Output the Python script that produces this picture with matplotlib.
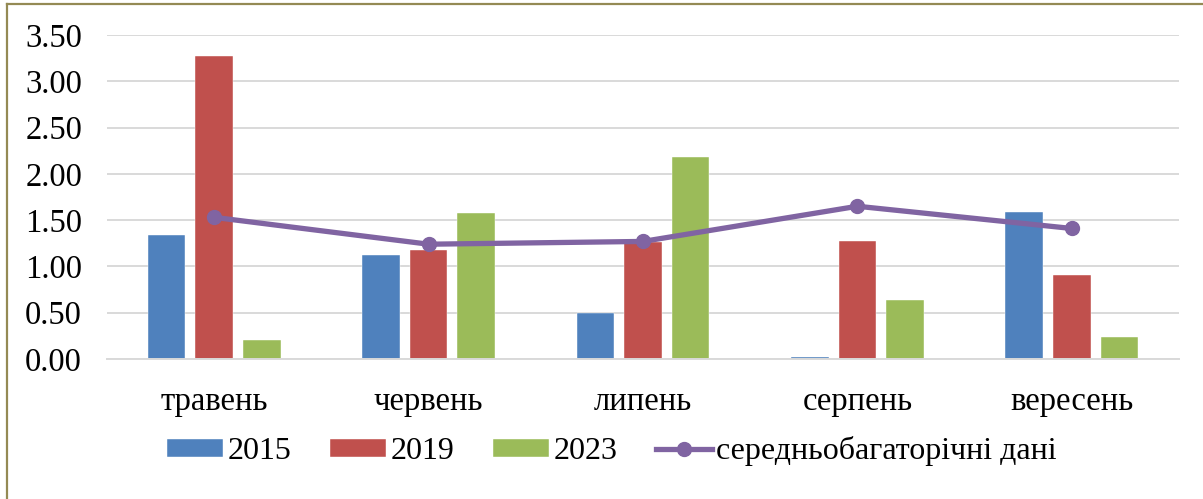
import matplotlib
matplotlib.use("Agg")
import matplotlib.pyplot as plt
import numpy as np
from matplotlib.lines import Line2D

months = ["травень", "червень", "липень", "серпень", "вересень"]
series_names = ["2015", "2019", "2023"]
v2015 = [1.34, 1.12, 0.50, 0.02, 1.59]
v2019 = [3.27, 1.18, 1.26, 1.28, 0.91]
v2023 = [0.20, 1.58, 2.18, 0.64, 0.24]
avg_name = "середньобагаторічні дані"
avg = [1.53, 1.24, 1.27, 1.65, 1.41]
yticks = [0.0, 0.5, 1.0, 1.5, 2.0, 2.5, 3.0, 3.5]

colors = ["#4F81BD", "#C0504D", "#9BBB59"]
line_color = "#8064A2"

plt.rcParams['font.family'] = ['Liberation Serif', 'DejaVu Serif']

W, H = 1203, 499
fig = plt.figure(figsize=(W / 100, H / 100), dpi=100)
left, right, top, bottom = 107, 1179, 35, 359
ax = fig.add_axes([left / W, 1 - bottom / H, (right - left) / W, (bottom - top) / H])

x = np.arange(len(months))
width = 0.175
step = 0.222
bars = []
for i, (vals, name) in enumerate(zip([v2015, v2019, v2023], series_names)):
    b = ax.bar(x + (i - 1) * step, vals, width, color=colors[i], label=name,
               edgecolor="white", linewidth=0.3, zorder=2)
    bars.append(b)
ln, = ax.plot(x, avg, color=line_color, linewidth=3.8, marker="o", markersize=10,
              label=avg_name, zorder=3)

ax.set_xlim(-0.5, len(months) - 0.5)
ax.set_ylim(0, 3.5)
ax.set_yticks(yticks)
ax.set_yticklabels([f"{t:.2f}" for t in yticks])
ax.set_xticks(x)
ax.set_xticklabels(months)
ax.tick_params(axis="both", length=0, labelsize=23.5)
ax.tick_params(axis="x", pad=20)
ax.tick_params(axis="y", pad=18)
ax.grid(axis="y", color="#D9D9D9", linewidth=1.4, zorder=0)
ax.set_axisbelow(True)
for s in ["top", "right", "left"]:
    ax.spines[s].set_visible(False)
ax.spines["bottom"].set_color("#D9D9D9")
ax.spines["bottom"].set_linewidth(1.4)

handles = bars + [ln]
labels = series_names + [avg_name]
fig.legend(handles, labels, loc="center", bbox_to_anchor=(612 / W, 1 - 451 / H),
           ncol=4, frameon=False, fontsize=23, handlelength=1.75, handleheight=0.5,
           handletextpad=0.15, columnspacing=1.2, borderpad=0)

# figure border (top and left)
bc = "#948A54"
fig.add_artist(Line2D([7 / W, 7 / W], [0, 1 - 4 / H], color=bc, linewidth=1.6,
                      transform=fig.transFigure))
fig.add_artist(Line2D([7 / W, 1], [1 - 4 / H, 1 - 4 / H], color=bc, linewidth=1.6,
                      transform=fig.transFigure))

fig.savefig("out.png", dpi=100)
